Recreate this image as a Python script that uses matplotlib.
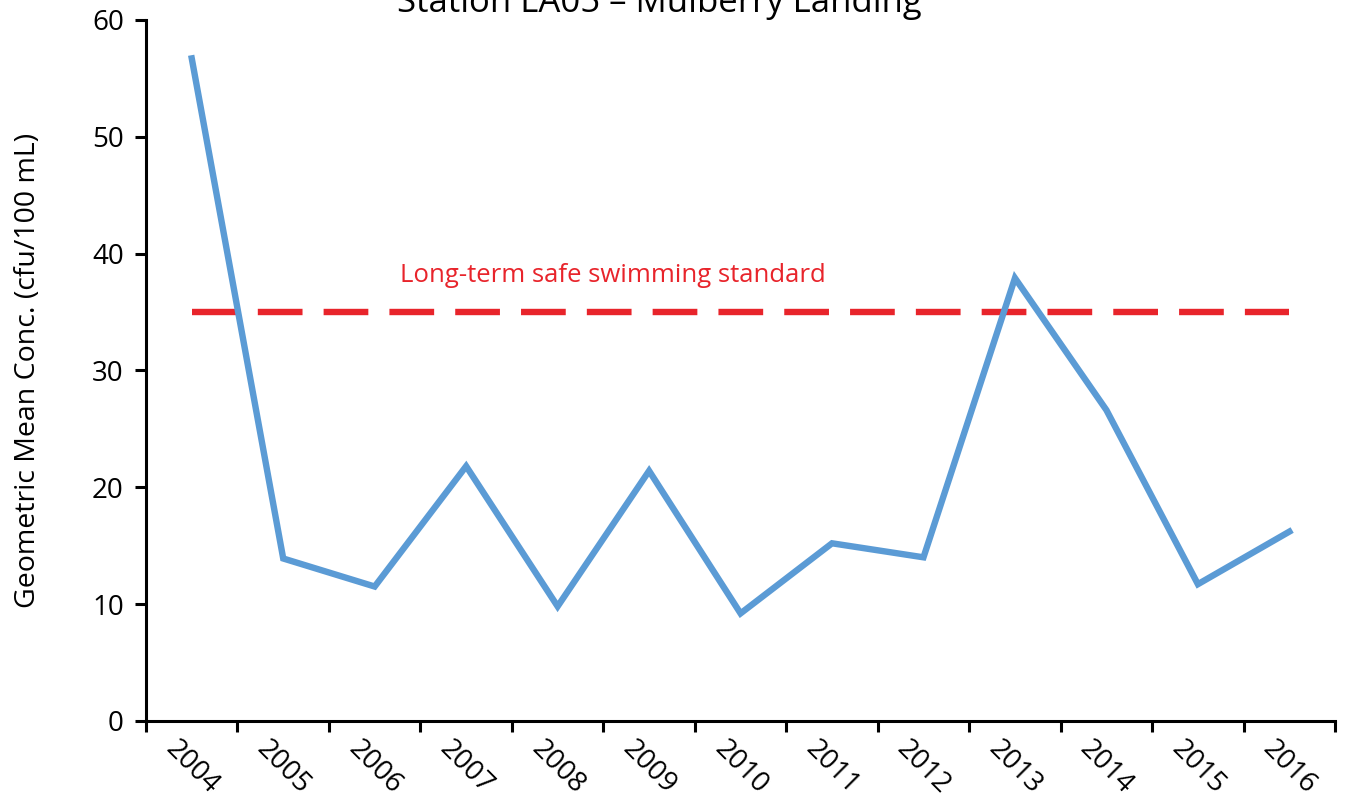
import matplotlib
matplotlib.use("Agg")
import matplotlib.pyplot as plt
import numpy as np

years = ["2004", "2005", "2006", "2007", "2008", "2009", "2010",
         "2011", "2012", "2013", "2014", "2015", "2016"]
geo_mean = [56.7, 13.9, 11.5, 21.8, 9.8, 21.4, 9.2, 15.2, 14.0, 37.9, 26.6, 11.7, 16.2]
standard = 35
std_label = "Long-term safe swimming standard"
title = "Station LA05 \u2013 Mulberry Landing"

plt.rcParams["font.family"] = ["Open Sans", "DejaVu Sans"]

fig = plt.figure(figsize=(13.52, 8.1), dpi=100)
ax = fig.add_axes([0.108, 0.11, 0.8795, 0.8655])

x = np.arange(len(years))
ax.plot(x, geo_mean, color="#5B9BD5", lw=4.6, solid_joinstyle="miter", zorder=3)
ax.plot(x, [standard] * len(x), color="#E8242B", lw=4.6, ls=(0, (7, 3.3)), zorder=2)
ax.text(4.6, 37.6, std_label, color="#E8242B", fontsize=18.5, ha="center", va="baseline")

ax.set_xlim(-0.5, len(years) - 0.5)
ax.set_ylim(0, 60)
ax.set_yticks(range(0, 61, 10))
ax.set_xticks(np.arange(-0.5, len(years)))
ax.set_xticklabels([])
ax.set_xticks(x, minor=True)
ax.set_xticklabels(years, minor=True, rotation=-45, ha="center", va="top", fontsize=20)
ax.tick_params(axis="x", which="minor", length=0, pad=10)
ax.tick_params(axis="x", which="major", length=8, width=2.2, direction="out")
ax.tick_params(axis="y", length=8, width=2.2, direction="out", labelsize=20, pad=8)
for s in ("top", "right"):
    ax.spines[s].set_visible(False)
for s in ("left", "bottom"):
    ax.spines[s].set_linewidth(2.2)
ax.set_ylabel("Geometric Mean Conc. (cfu/100 mL)", fontsize=20.5, labelpad=36)

fig.text(0.488, 1 - 12 / 810, title, fontsize=25, ha="center", va="baseline")

fig.savefig("out.png", dpi=100)
